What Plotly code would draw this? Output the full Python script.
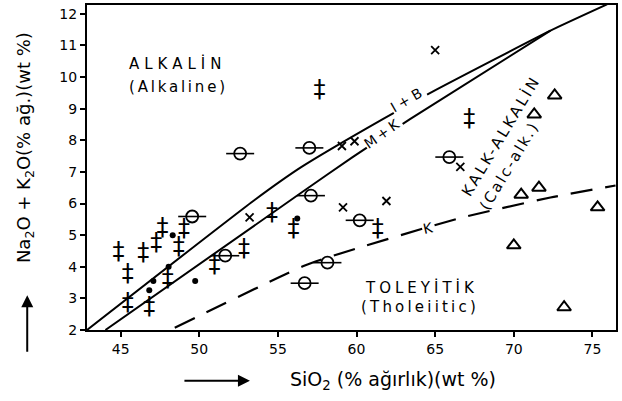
import plotly.graph_objects as go

# ---- data ----
# Irvine & Baragar (I+B) boundary
ib_x = [42.86, 53.54, 56.48, 61.67, 64.87, 72.33, 75.93]
ib_y = [2.0, 6.12, 7.15, 8.67, 9.55, 11.47, 12.3]
# Macdonald & Katsura (M+K) boundary
mk_x = [44.03, 56.48, 59.75, 63.4, 72.33]
mk_y = [2.0, 6.34, 7.47, 8.67, 11.47]
# Kuno (K) boundary (dashed)
k_x = [48.44, 56.67, 58.52, 66.5, 72.33, 76.47]
k_y = [2.07, 4.03, 4.35, 5.53, 6.19, 6.57]

# double-cross samples
dbl_x = [44.87, 45.45, 45.45, 46.43, 47.27, 47.66, 46.82, 47.99, 49.03, 48.7,
         50.96, 52.85, 54.62, 55.99, 57.65, 67.17, 61.35]
dbl_y = [4.45, 3.74, 2.83, 4.39, 4.71, 5.2, 2.69, 3.58, 5.15, 4.58,
         4.03, 4.52, 5.68, 5.15, 9.55, 8.64, 5.15]
# filled dot samples
dot_x = [48.31, 48.05, 47.08, 46.82, 49.74, 56.23]
dot_y = [5.0, 4.0, 3.55, 3.26, 3.55, 5.53]
# circle-with-bar samples
circ_x = [52.6, 57.0, 49.55, 57.1, 51.65, 56.7, 60.2, 58.15, 65.9]
circ_y = [7.58, 7.76, 5.59, 6.25, 4.35, 3.48, 5.47, 4.13, 7.47]
# x samples
xs_x = [65.0, 59.07, 59.87, 59.14, 61.9, 53.2, 66.6]
xs_y = [10.85, 7.82, 7.97, 5.88, 6.08, 5.56, 7.16]
# triangle samples
tri_x = [72.6, 71.3, 70.47, 71.6, 75.33, 70.0, 73.2]
tri_y = [9.42, 8.82, 6.28, 6.5, 5.88, 4.68, 2.72]

x_ticks = [45, 50, 55, 60, 65, 70, 75]
y_ticks = [2, 3, 4, 5, 6, 7, 8, 9, 10, 11, 12]

FONT = "DejaVu Sans"
BLACK = "black"

fig = go.Figure()

fig.add_trace(go.Scatter(x=ib_x, y=ib_y, mode="lines",
                         line=dict(color=BLACK, width=2, shape="spline", smoothing=0.5),
                         hoverinfo="skip"))
fig.add_trace(go.Scatter(x=mk_x, y=mk_y, mode="lines",
                         line=dict(color=BLACK, width=2, shape="spline", smoothing=0.5),
                         hoverinfo="skip"))
fig.add_trace(go.Scatter(x=k_x, y=k_y, mode="lines",
                         line=dict(color=BLACK, width=2.2, dash="22px,13px",
                                   shape="spline", smoothing=0.6),
                         hoverinfo="skip"))

# double cross samples
fig.add_trace(go.Scatter(x=dbl_x, y=dbl_y, mode="text", text=["‡"] * len(dbl_x),
                         textfont=dict(family=FONT, size=24, color=BLACK),
                         textposition="middle center"))
fig.add_trace(go.Scatter(x=dot_x, y=dot_y, mode="markers",
                         marker=dict(symbol="circle", size=6, color=BLACK)))
fig.add_trace(go.Scatter(x=circ_x, y=circ_y, mode="markers",
                         marker=dict(symbol="circle-open", size=12, color=BLACK,
                                     line=dict(color=BLACK, width=1.8))))
fig.add_trace(go.Scatter(x=circ_x, y=circ_y, mode="markers",
                         marker=dict(symbol="line-ew", size=20, color=BLACK,
                                     line=dict(color=BLACK, width=1.6))))
fig.add_trace(go.Scatter(x=xs_x, y=xs_y, mode="markers",
                         marker=dict(symbol="x-thin", size=8, color=BLACK,
                                     line=dict(color=BLACK, width=1.8))))
fig.add_trace(go.Scatter(x=tri_x, y=tri_y, mode="markers",
                         marker=dict(symbol="triangle-up-open", size=12, color=BLACK,
                                     line=dict(color=BLACK, width=2))))

ann = []
def lab(text, x, y, size=13, angle=0, bg=None, spacing=0):
    t = text if not spacing else f'<span style="letter-spacing:{spacing}px">{text}</span>'
    d = dict(text=t, x=x, y=y, xref="x", yref="y", showarrow=False,
             xanchor="center", yanchor="middle",
             textangle=angle, font=dict(family=FONT, size=size, color=BLACK))
    if bg:
        d["bgcolor"] = bg
        d["borderpad"] = 0
    ann.append(d)

lab("ALKALİN", 48.6, 10.42, size=15, spacing=5)
lab("(Alkaline)", 48.65, 9.7, size=15, spacing=2.8)
lab("TOLEYİTİK", 64.1, 3.35, size=15, spacing=4)
lab("(Tholeiitic)", 64.03, 2.72, size=15, spacing=3.2)
lab("KALK-ALKALİN", 69.18, 8.15, size=15, angle=-59, spacing=2.8)
lab("(Calc-alk.)", 69.7, 7.2, size=15, angle=-59, spacing=2.2)
lab("I+B", 63.27, 9.32, size=14, angle=-30, bg="white", spacing=4)
lab("M+K", 61.68, 8.22, size=14, angle=-35, bg="white", spacing=3)
lab("K", 64.54, 5.24, size=14, angle=-12, bg="white")

# axis titles with arrows
ann.append(dict(text="Na<sub>2</sub>O + K<sub>2</sub>O(% ağ.)(wt %)",
                xref="paper", yref="paper", x=-0.117, y=0.56, showarrow=False,
                xanchor="center", yanchor="middle",
                textangle=-90, font=dict(family=FONT, size=18, color=BLACK)))
ann.append(dict(text="", xref="paper", yref="paper", x=-0.113, y=0.107,
                ax=0, ay=58, showarrow=True, arrowhead=2, arrowsize=1.2,
                arrowwidth=2, arrowcolor=BLACK))
ann.append(dict(text="SiO<sub>2</sub> (% ağırlık)(wt %)",
                xref="paper", yref="paper", x=0.578, y=-0.156, showarrow=False,
                xanchor="center", yanchor="middle",
                font=dict(family=FONT, size=19, color=BLACK)))
ann.append(dict(text="", xref="paper", yref="paper", x=0.308, y=-0.156,
                ax=-67, ay=0, showarrow=True, arrowhead=2, arrowsize=1.2,
                arrowwidth=2, arrowcolor=BLACK))

fig.update_layout(
    width=622, height=401,
    margin=dict(l=87, r=6, t=3, b=71),
    paper_bgcolor="white", plot_bgcolor="white",
    showlegend=False,
    annotations=ann,
    font=dict(family=FONT, size=14, color=BLACK),
)
fig.update_xaxes(range=[42.86, 76.5], tickvals=x_ticks, ticktext=[str(v) for v in x_ticks],
                 showgrid=False, zeroline=False, showline=True, linecolor=BLACK,
                 linewidth=2, mirror=True, ticks="outside", ticklen=5, tickwidth=1.5,
                 tickcolor=BLACK, tickfont=dict(family=FONT, size=14, color=BLACK))
fig.update_yaxes(range=[2, 12.28], tickvals=y_ticks, ticktext=[str(v) for v in y_ticks],
                 showgrid=False, zeroline=False, showline=True, linecolor=BLACK,
                 linewidth=2, mirror=True, ticks="outside", ticklen=5, tickwidth=1.5,
                 tickcolor=BLACK, tickfont=dict(family=FONT, size=14, color=BLACK))

fig.write_html("out.html", config={"displayModeBar": False},
               post_script="document.body.style.margin='0px';")
